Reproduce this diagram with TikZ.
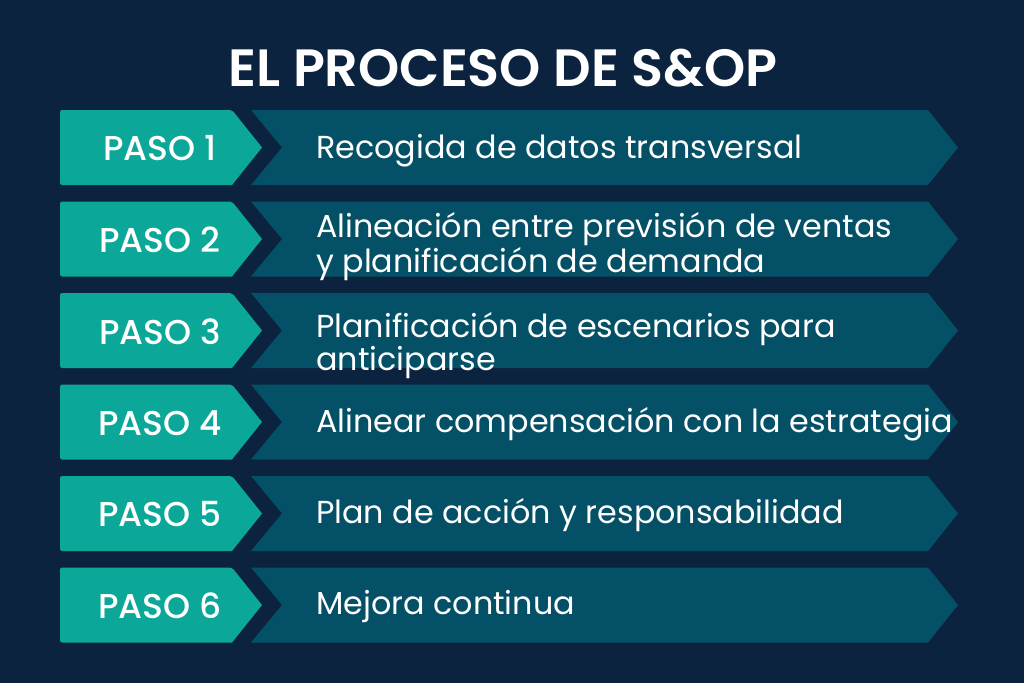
\documentclass[tikz,border=0pt]{standalone}
\usepackage{fontspec}
\setmainfont{Poppins}[BoldFont={Poppins SemiBold}]
\newfontfamily\pasofont{Poppins Medium}
\usetikzlibrary{positioning}
\definecolor{navy}{HTML}{0C2340}
\definecolor{pasoteal}{HTML}{0BA798}
\definecolor{bandteal}{HTML}{045066}
\tikzset{pasobox/.style={fill=pasoteal, rounded corners=1.5pt}}
\tikzset{band/.style={fill=bandteal}}
\tikzset{pasolabel/.style={text=white, font=\pasofont\fontsize{24.5}{24.5}\selectfont, inner sep=0}}
\tikzset{steptext/.style={text=white, font=\fontsize{22.6}{23.2}\selectfont, align=left, anchor=west, inner sep=0}}
\tikzset{titletext/.style={text=white, font=\bfseries\fontsize{37.3}{37.3}\selectfont, inner sep=0}}

\begin{document}
\begin{tikzpicture}[x=0.025cm, y=-0.025cm]
			\fill[navy] (0,0) rectangle (1024,683);
			\useasboundingbox (0,0) rectangle (1024,683);
			\node[titletext] (title) at (503,68) {EL PROCESO DE S\&OP};
			%
			\foreach \t [count=\i] in {110,201.5,293,384.5,476,567.5}{
				\fill[band] (251,\t) -- (928,\t) -- (958,\t+37.5) -- (928,\t+75)
					-- (251,\t+75) -- (282,\t+37.5) -- cycle;
				\fill[pasobox] (60,\t) -- (232,\t) [sharp corners] -- (262,\t+37.5) -- (232,\t+75)
					[rounded corners=1.5pt] -- (60,\t+75) -- cycle;
				\node[pasolabel] (paso\i) at (160,\t+38.5) {PASO \i};
			}
			%
			\node[steptext] (t1) at (316,150.5) {Recogida de datos transversal};
			\node[steptext] (t2) at (316,246.5) {Alineación entre previsión de ventas\\y planificación de demanda};
			\node[steptext] (t3) at (316,345.5) {Planificación de escenarios para\\anticiparse};
			\node[steptext] (t4) at (316,424.5) {Alinear compensación con la estrategia};
			\node[steptext] (t5) at (316,515.5) {Plan de acción y responsabilidad};
			\node[steptext] (t6) at (316,607) {Mejora continua};
\end{tikzpicture}
\end{document}
